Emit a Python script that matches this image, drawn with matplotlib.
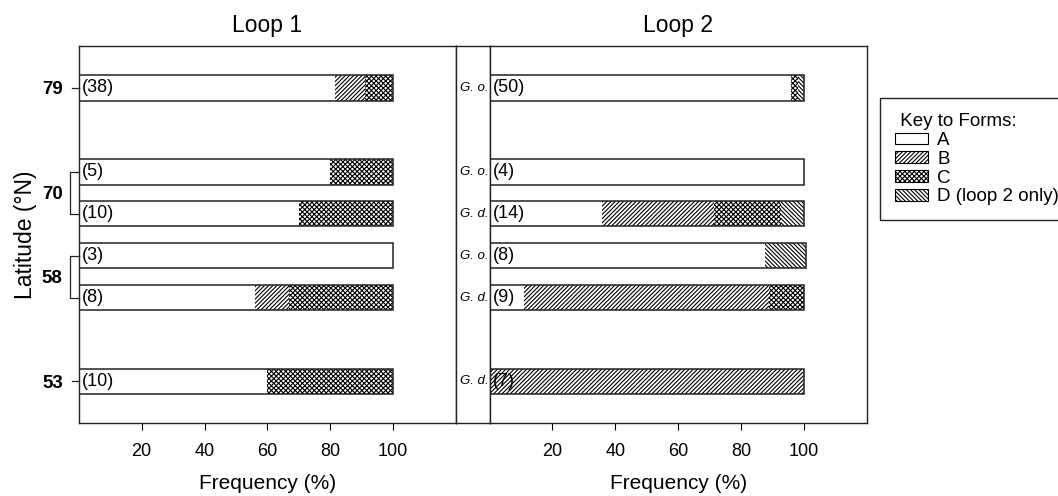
import matplotlib
matplotlib.use('Agg')
import matplotlib.pyplot as plt
from matplotlib.patches import Patch

plt.rcParams['font.family'] = ['Liberation Sans', 'DejaVu Sans']
plt.rcParams['hatch.linewidth'] = 0.8

# --- data ---
latitudes = ['79', '70', '58', '53']
forms = ['A', 'B', 'C', 'D (loop 2 only)']

loop1_n = [38, 5, 10, 3, 8, 10]
loop1_A = [81.5, 80, 70, 100, 56, 60]
loop1_B = [9.5, 0, 0, 0, 11, 0]
loop1_C = [9, 20, 30, 0, 33, 40]

loop2_species = ['G. o.', 'G. o.', 'G. d.', 'G. o.', 'G. d.', 'G. d.']
loop2_n = [50, 4, 14, 8, 9, 7]
loop2_A = [96, 100, 35.7, 87.5, 11.1, 0]
loop2_B = [0, 0, 35.7, 0, 77.8, 100]
loop2_C = [2, 0, 21.4, 0, 11.1, 0]
loop2_D = [2, 0, 7.2, 13, 0, 0]

# --- layout ---
row_pos = [0, 2, 3, 4, 5, 7]          # bar rows (top to bottom)
lat_pos = [0, 2.5, 4.5, 7]            # where latitude labels sit
bar_h = 0.61
hatches = ['', '////////', 'xxxxxxx', '\\\\\\\\\\\\\\\\']

W, H = 1058, 496
fig = plt.figure(figsize=(W / 100, H / 100), dpi=100)
bot = 1 - 423.3 / H
hgt = (423.3 - 46) / H
ax1 = fig.add_axes([78.8 / W, bot, (456 - 78.8) / W, hgt])
axm = fig.add_axes([456 / W, bot, (489.5 - 456) / W, hgt])
ax2 = fig.add_axes([489.5 / W, bot, (867 - 489.5) / W, hgt])


def draw_loop(ax, parts, counts):
    left = [0] * len(row_pos)
    for vals, hatch in zip(parts, hatches):
        ax.barh(row_pos, vals, left=left, height=bar_h, facecolor='none',
                edgecolor='black', linewidth=0, hatch=hatch, zorder=2)
        left = [l + v for l, v in zip(left, vals)]
    ax.barh(row_pos, left, height=bar_h, fill=False, edgecolor='#222222',
            linewidth=1.1, zorder=3)
    for y, k in zip(row_pos, counts):
        ax.text(1, y, f'({k})', ha='left', va='center', fontsize=13, zorder=1)


draw_loop(ax1, [loop1_A, loop1_B, loop1_C], loop1_n)
draw_loop(ax2, [loop2_A, loop2_B, loop2_C, loop2_D], loop2_n)

for ax in (ax1, axm, ax2):
    ax.set_ylim(8, -1)
    for s in ax.spines.values():
        s.set_linewidth(1.0)
        s.set_color('#222222')

for ax, title in ((ax1, 'Loop 1'), (ax2, 'Loop 2')):
    ax.set_xlim(0, 120)
    ax.set_xticks([20, 40, 60, 80, 100])
    ax.tick_params(axis='x', length=5, width=0.8, pad=9, labelsize=13)
    ax.set_xlabel('Frequency (%)', fontsize=15, labelpad=10)
    ax.set_title(title, fontsize=16.5, pad=10)

ax2.set_yticks([])
axm.set_xticks([])
axm.set_yticks([])
axm.set_xlim(0, 1)
for y, sp in zip(row_pos, loop2_species):
    axm.text(0.97, y, sp, ha='right', va='center', fontsize=9.5, style='italic')

ax1.set_yticks(lat_pos)
ax1.set_yticklabels(latitudes, fontweight='bold', fontsize=13.5)
ax1.tick_params(axis='y', length=0, pad=11.5)
ax1.set_ylabel('Latitude (\u00b0N)', fontsize=16.5)
ax1.yaxis.set_label_coords(-0.112, 0.5)

# tick dashes and brackets beside the latitude labels
tr = ax1.get_yaxis_transform()
dx = -0.018
bx = -0.0235
for y in (0, 7):
    ax1.plot([dx, 0], [y, y], color='#222222', lw=0.9, transform=tr, clip_on=False)
for y0, y1 in ((2, 3), (4, 5)):
    ax1.plot([0, bx, bx, 0], [y0, y0, y1, y1], color='#222222', lw=0.9,
             transform=tr, clip_on=False)

handles = [Patch(facecolor='white', edgecolor='black', hatch=h, linewidth=0.8)
           for h in hatches]
leg = fig.legend(handles, forms, loc='upper left',
                 bbox_to_anchor=(880 / W, 1 - 98 / H), borderaxespad=0,
                 title=' Key to Forms:', title_fontsize=13.5, fontsize=13.5,
                 alignment='left', fancybox=False, edgecolor='#222222',
                 framealpha=1, labelspacing=0.1, handlelength=1.75,
                 handleheight=0.55, handletextpad=0.5, borderpad=0.8)
leg.get_frame().set_linewidth(1.0)

fig.savefig('out.png', dpi=100)
